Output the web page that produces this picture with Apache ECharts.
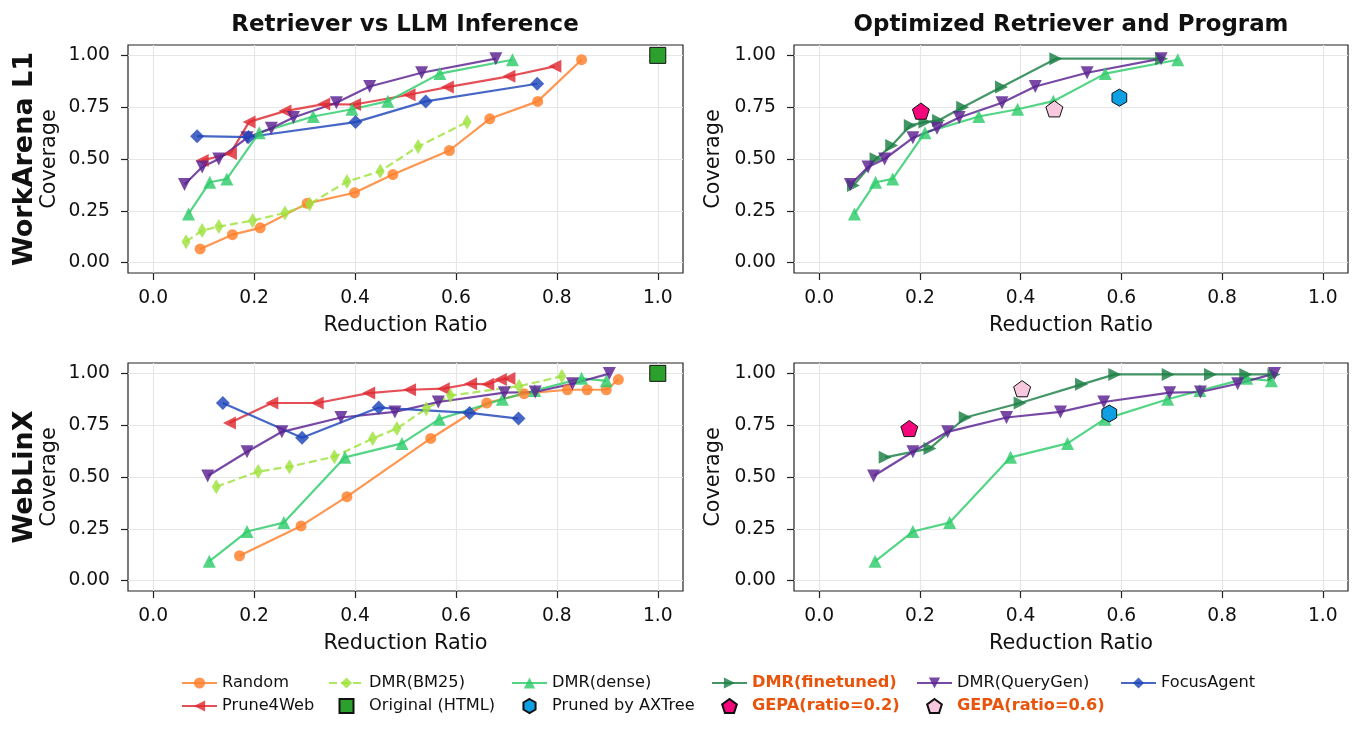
<!DOCTYPE html>
<html>
<head>
<meta charset="utf-8">
<script src="https://cdn.jsdelivr.net/npm/echarts@6/dist/echarts.min.js"></script>
<style>
  html, body { margin: 0; padding: 0; background: #fff; }
  #chart { width: 1363px; height: 738px; }
</style>
</head>
<body>
<div id="chart"></div>
<script>
// panel titles / row labels
const colTitles = ['Retriever vs LLM Inference', 'Optimized Retriever and Program']
const rowLabels = ['WorkArena L1', 'WebLinX']
const xTicks = [0, 0.2, 0.4, 0.6, 0.8, 1.0]
const yTicks = [0, 0.25, 0.5, 0.75, 1.0]

// WorkArena L1  [reduction ratio, coverage]
const waRandom = [[0.093,0.066],[0.157,0.135],[0.212,0.168],[0.305,0.286],[0.399,0.337],[0.475,0.425],[0.587,0.541],[0.667,0.694],[0.762,0.778],[0.849,0.979]]
const waBM25 = [[0.065,0.101],[0.097,0.155],[0.130,0.174],[0.197,0.203],[0.261,0.240],[0.310,0.283],[0.384,0.391],[0.450,0.441],[0.525,0.560],[0.622,0.678]]
const waDense = [[0.070,0.235],[0.112,0.388],[0.146,0.404],[0.210,0.627],[0.317,0.705],[0.394,0.740],[0.465,0.779],[0.568,0.912],[0.712,0.979]]
const waQueryGen = [[0.062,0.377],[0.097,0.461],[0.130,0.500],[0.186,0.602],[0.234,0.648],[0.278,0.700],[0.363,0.771],[0.429,0.850],[0.532,0.916],[0.679,0.984]]
const waPrune4Web = [[0.097,0.493],[0.153,0.527],[0.190,0.679],[0.261,0.731],[0.338,0.765],[0.399,0.763],[0.507,0.810],[0.583,0.847],[0.705,0.899],[0.796,0.947]]
const waFocus = [[0.087,0.610],[0.189,0.606],[0.401,0.678],[0.540,0.778],[0.761,0.863]]
const waFinetuned = [[0.068,0.372],[0.113,0.501],[0.144,0.565],[0.181,0.662],[0.210,0.678],[0.237,0.686],[0.285,0.750],[0.362,0.847],[0.470,0.984],[0.680,0.984]]
const waOriginal = [[1.0,1.0]]
const waAXTree = [[0.596,0.796]]
const waGepa02 = [[0.202,0.731]]
const waGepa06 = [[0.467,0.742]]

// WebLinX
const wlRandom = [[0.171,0.120],[0.293,0.264],[0.384,0.405],[0.550,0.686],[0.661,0.857],[0.735,0.902],[0.821,0.921],[0.860,0.921],[0.898,0.921],[0.922,0.970]]
const wlBM25 = [[0.125,0.453],[0.208,0.526],[0.270,0.550],[0.359,0.598],[0.435,0.686],[0.483,0.734],[0.541,0.829],[0.589,0.893],[0.725,0.938],[0.810,0.986]]
const wlDense = [[0.111,0.093],[0.186,0.237],[0.259,0.280],[0.380,0.595],[0.493,0.662],[0.567,0.779],[0.692,0.875],[0.756,0.917],[0.849,0.976],[0.898,0.964]]
const wlQueryGen = [[0.108,0.505],[0.186,0.622],[0.255,0.718],[0.372,0.787],[0.479,0.814],[0.565,0.862],[0.696,0.907],[0.757,0.910],[0.831,0.950],[0.904,0.999]]
const wlPrune4Web = [[0.151,0.761],[0.235,0.857],[0.325,0.857],[0.427,0.905],[0.508,0.921],[0.575,0.926],[0.629,0.950],[0.663,0.947],[0.688,0.970],[0.705,0.975]]
const wlFocus = [[0.138,0.857],[0.295,0.689],[0.447,0.835],[0.627,0.809],[0.724,0.782]]
const wlFinetuned = [[0.131,0.595],[0.220,0.638],[0.290,0.787],[0.399,0.857],[0.521,0.947],[0.587,0.995],[0.693,0.995],[0.777,0.995],[0.847,0.995],[0.903,0.995]]
const wlOriginal = [[1.0,1.0]]
const wlAXTree = [[0.576,0.806]]
const wlGepa02 = [[0.179,0.734]]
const wlGepa06 = [[0.403,0.926]]

const FONT = '"DejaVu Sans", sans-serif'
const SQUARE = 'path://M0,0 L10,0 L10,10 L0,10 Z'
const PENTAGON = 'path://M0,-10 L9.51,-3.09 L5.88,8.09 L-5.88,8.09 L-9.51,-3.09 Z'
const HEXAGON = 'path://M0,-10 L8.66,-5 L8.66,5 L0,10 L-8.66,5 L-8.66,-5 Z'

// line styles per method
const styles = {
  'Random': { color: '#ff7f2a', symbol: 'circle', size: 11 },
  'Prune4Web': { color: '#df2a32', symbol: 'triangle', size: 13, rotate: 90 },
  'DMR(BM25)': { color: '#9ee23a', symbol: 'diamond', size: [9, 15], dashed: true },
  'DMR(dense)': { color: '#2ecc6a', symbol: 'triangle', size: 13 },
  'DMR(finetuned)': { color: '#1c7f45', symbol: 'triangle', size: 13, rotate: -90 },
  'DMR(QueryGen)': { color: '#5a2190', symbol: 'triangle', size: 13, rotate: 180 },
  'FocusAgent': { color: '#1f45bb', symbol: 'diamond', size: 14 }
}

const lineSeries = (name, data, idx) => {
  const s = styles[name]
  return {
    name, type: 'line', data,
    xAxisIndex: idx, yAxisIndex: idx,
    symbol: s.symbol, symbolSize: s.size, symbolRotate: s.rotate || 0,
    lineStyle: { width: 2.2, color: s.color, opacity: 0.82, type: s.dashed ? [8, 4] : 'solid' },
    itemStyle: { color: s.color, opacity: 0.82 },
    emphasis: { disabled: true },
    animation: false
  }
}

const pointSeries = (name, data, idx, symbol, size, color) => ({
  name, type: 'scatter', data,
  xAxisIndex: idx, yAxisIndex: idx,
  symbol, symbolSize: size, symbolKeepAspect: true,
  itemStyle: { color, borderColor: '#111', borderWidth: 1, opacity: 1 },
  z: 5, animation: false
})

const grids = [
  { left: 128, top: 45, width: 555, height: 228 },
  { left: 794, top: 45, width: 554, height: 228 },
  { left: 128, top: 363, width: 555, height: 228 },
  { left: 794, top: 363, width: 554, height: 228 }
].map(g => ({ ...g, show: true, borderColor: '#222', borderWidth: 1.2, backgroundColor: '#fff' }))

const xAxes = grids.map((g, i) => ({
  type: 'value', gridIndex: i, min: -0.05, max: 1.05,
  name: 'Reduction Ratio', nameLocation: 'middle', nameGap: 42,
  nameTextStyle: { fontFamily: FONT, fontSize: 20.8, color: '#111' },
  axisLine: { show: false, onZero: false },
  axisTick: { show: true, length: 7, customValues: xTicks, lineStyle: { color: '#222', width: 1.2 } },
  axisLabel: { customValues: xTicks, formatter: v => v.toFixed(1), fontFamily: FONT, fontSize: 18.7, color: '#111', margin: 16 },
  splitLine: { show: true, lineStyle: { color: '#e6e6e6', width: 1.2 } }
}))

const yAxes = grids.map((g, i) => ({
  type: 'value', gridIndex: i, min: -0.05, max: 1.05,
  name: 'Coverage', nameLocation: 'middle', nameGap: i % 2 === 0 ? 68 : 70,
  nameTextStyle: { fontFamily: FONT, fontSize: 20.8, color: '#111' },
  axisLine: { show: false, onZero: false },
  axisTick: { show: true, length: 7, customValues: yTicks, lineStyle: { color: '#222', width: 1.2 } },
  axisLabel: { customValues: yTicks, formatter: v => v.toFixed(2), fontFamily: FONT, fontSize: 18.7, color: '#111', margin: 18 },
  splitLine: { show: true, lineStyle: { color: '#e6e6e6', width: 1.2 } }
}))

const series = [
  // top-left
  lineSeries('Random', waRandom, 0),
  lineSeries('Prune4Web', waPrune4Web, 0),
  lineSeries('DMR(BM25)', waBM25, 0),
  lineSeries('DMR(dense)', waDense, 0),
  lineSeries('DMR(QueryGen)', waQueryGen, 0),
  lineSeries('FocusAgent', waFocus, 0),
  pointSeries('Original (HTML)', waOriginal, 0, SQUARE, 16, '#2ca02c'),
  // top-right
  lineSeries('DMR(dense)', waDense, 1),
  lineSeries('DMR(finetuned)', waFinetuned, 1),
  lineSeries('DMR(QueryGen)', waQueryGen, 1),
  pointSeries('Pruned by AXTree', waAXTree, 1, HEXAGON, 17, '#0f9fe3'),
  pointSeries('GEPA(ratio=0.2)', waGepa02, 1, PENTAGON, 17, '#f5077c'),
  pointSeries('GEPA(ratio=0.6)', waGepa06, 1, PENTAGON, 17, '#f8c8de'),
  // bottom-left
  lineSeries('Random', wlRandom, 2),
  lineSeries('Prune4Web', wlPrune4Web, 2),
  lineSeries('DMR(BM25)', wlBM25, 2),
  lineSeries('DMR(dense)', wlDense, 2),
  lineSeries('DMR(QueryGen)', wlQueryGen, 2),
  lineSeries('FocusAgent', wlFocus, 2),
  pointSeries('Original (HTML)', wlOriginal, 2, SQUARE, 16, '#2ca02c'),
  // bottom-right
  lineSeries('DMR(dense)', wlDense, 3),
  lineSeries('DMR(finetuned)', wlFinetuned, 3),
  lineSeries('DMR(QueryGen)', wlQueryGen, 3),
  pointSeries('Pruned by AXTree', wlAXTree, 3, HEXAGON, 17, '#0f9fe3'),
  pointSeries('GEPA(ratio=0.2)', wlGepa02, 3, PENTAGON, 17, '#f5077c'),
  pointSeries('GEPA(ratio=0.6)', wlGepa06, 3, PENTAGON, 17, '#f8c8de')
]

// legend in 6 columns, two rows (column-major like matplotlib)
const hl = { color: '#e8540c', fontWeight: 'bold' }
const legendCols = [
  { left: 176, data: ['Random', 'Prune4Web'] },
  { left: 323, data: ['DMR(BM25)', 'Original (HTML)'] },
  { left: 506, data: ['DMR(dense)', 'Pruned by AXTree'] },
  { left: 706, data: [{ name: 'DMR(finetuned)', textStyle: hl }, { name: 'GEPA(ratio=0.2)', textStyle: hl }] },
  { left: 911, data: ['DMR(QueryGen)', { name: 'GEPA(ratio=0.6)', textStyle: hl }] },
  { left: 1115, data: ['FocusAgent'] }
]
const legends = legendCols.map(c => ({
  left: c.left, top: 670, orient: 'vertical', data: c.data,
  itemWidth: 35, itemHeight: 14, itemGap: 7,
  textStyle: { fontFamily: FONT, fontSize: 16.2, color: '#111' },
  selectedMode: false
}))

const graphics = [
  { type: 'text', x: 405, y: 25, style: { text: colTitles[0], font: 'bold 22.9px ' + FONT, fill: '#111', textAlign: 'center', textVerticalAlign: 'middle' } },
  { type: 'text', x: 1071, y: 25, style: { text: colTitles[1], font: 'bold 22.9px ' + FONT, fill: '#111', textAlign: 'center', textVerticalAlign: 'middle' } },
  { type: 'text', x: 25, y: 159, rotation: Math.PI / 2, style: { text: rowLabels[0], font: 'bold 27px ' + FONT, fill: '#111', textAlign: 'center', textVerticalAlign: 'middle' } },
  { type: 'text', x: 25, y: 477, rotation: Math.PI / 2, style: { text: rowLabels[1], font: 'bold 27px ' + FONT, fill: '#111', textAlign: 'center', textVerticalAlign: 'middle' } }
]

const chart = echarts.init(document.getElementById('chart'))
chart.setOption({
  backgroundColor: '#fff',
  animation: false,
  textStyle: { fontFamily: FONT },
  grid: grids,
  xAxis: xAxes,
  yAxis: yAxes,
  legend: legends,
  graphic: graphics,
  series
})
</script>
</body>
</html>
